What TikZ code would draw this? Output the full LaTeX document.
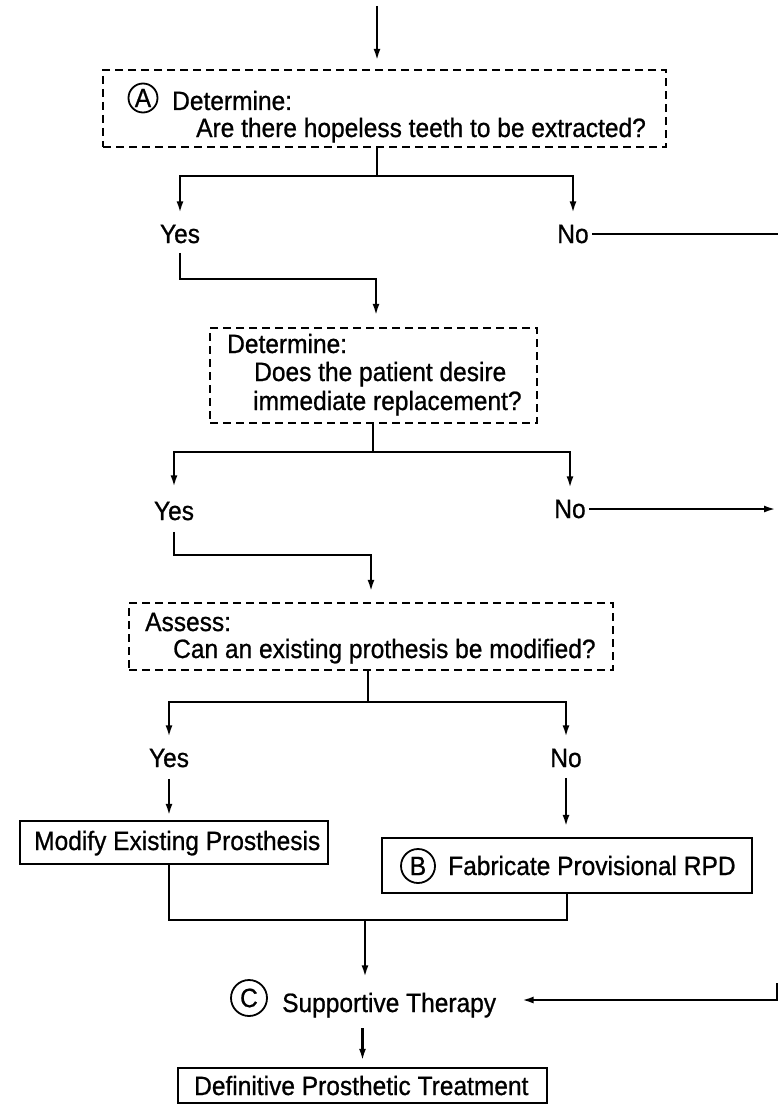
\documentclass[tikz,border=0pt]{standalone}
\usepackage{fontspec}
\setmainfont{Liberation Sans}[FakeStretch=0.925, FakeBold=0.8]
\usetikzlibrary{arrows.meta}
\begin{document}
\begin{tikzpicture}[x=1pt,y=-1pt,
  lbl/.style={font=\fontsize{26.5}{30}\selectfont, inner sep=3.3pt},
  txt/.style={lbl, anchor=base west, inner sep=0pt},
  dbox/.style={draw, line width=2.4pt, dash pattern=on 8pt off 5pt, inner sep=0pt},
  sbox/.style={draw, line width=2.4pt, inner sep=0pt},
  circ/.style={draw, circle, line width=1.8pt, inner sep=0pt,
    font=\fontsize{26.5}{30}\selectfont},
  flow/.style={line width=2.4pt},
  arr/.style={flow, -{Latex[length=12pt,width=7pt]}},
  harr/.style={flow, -{Latex[open,length=12pt,width=7pt]}}]
\useasboundingbox (0,0) rectangle (778,1105);

% boxes
\node[dbox, minimum width=563pt, minimum height=77pt] (boxA) at (384.5,108.5) {};
\node[dbox, minimum width=327pt, minimum height=95pt] (boxD) at (373.5,375.5) {};
\node[dbox, minimum width=484pt, minimum height=67pt] (boxS) at (371,636.5) {};
\node[sbox, minimum width=308pt, minimum height=43pt] (boxM) at (174,842.5) {};
\node[sbox, minimum width=370pt, minimum height=55pt] (boxB) at (567,865.5) {};
\node[sbox, minimum width=369pt, minimum height=35pt] (boxT) at (362.5,1085.5) {};

% box texts
\node[circ, minimum size=29pt] (cA) at (143,98) {A};
\node[txt] (tA1) at (172,110) {Determine:};
\node[txt] (tA2) at (196,137) {Are there hopeless teeth to be extracted?};
\node[txt] (tD1) at (227,353) {Determine:};
\node[txt] (tD2) at (254,381) {Does the patient desire};
\node[txt] (tD3) at (253,410) {immediate replacement?};
\node[txt] (tS1) at (145,631) {Assess:};
\node[txt] (tS2) at (173,658) {Can an existing prothesis be modified?};
\node[txt] (tM) at (34,850) {Modify Existing Prosthesis};
\node[circ, minimum size=34pt] (cB) at (418,866) {B};
\node[txt] (tB) at (448,875) {Fabricate Provisional RPD};
\node[circ, minimum size=36pt] (cC) at (249,998) {C};
\node[lbl, anchor=base west] (tC) at (278.7,1012) {Supportive Therapy};
\node[txt] (tT) at (194,1095) {Definitive Prosthetic Treatment};

% yes / no labels
\node[lbl, anchor=base] (yA) at (180,243) {Yes};
\node[lbl, anchor=base] (nA) at (573,243) {No};
\node[lbl, anchor=base] (yD) at (174,520) {Yes};
\node[lbl, anchor=base] (nD) at (570,518) {No};
\node[lbl, anchor=base] (yS) at (169,767) {Yes};
\node[lbl, anchor=base] (nS) at (566,767) {No};

% junctions and free ends
\coordinate (top) at (377,6);
\coordinate (jA) at (377,176);
\coordinate (kA) at (376,279);
\coordinate (jD) at (373,452);
\coordinate (kD) at (371,555);
\coordinate (jS) at (368,702);
\coordinate (jM) at (365,920);
\coordinate (eA) at (778,233);
\coordinate (eD) at (776,510);
\coordinate (eT) at (777,983);
\coordinate (eC) at (777,1000);

% connectors
\draw[arr, shorten >=8pt] (top) -- (top |- boxA.north);
\draw[flow] (jA |- boxA.south) -- (jA);
\draw[arr, shorten >=8pt] (jA) -| (yA.north);
\draw[arr, shorten >=8pt] (jA) -| (nA.north);
\draw[flow] (nA.east) -- (nA.east -| eA);
\draw[harr, shorten <=6pt, shorten >=11pt] (yA.south) |- (kA) -- (kA |- boxD.north);

\draw[flow] (jD |- boxD.south) -- (jD);
\draw[harr, shorten >=11pt] (jD) -| (yD.north);
\draw[harr, shorten >=8pt] (jD) -| (nD.north);
\draw[harr] (nD.east) -- (nD.east -| eD);
\draw[arr, shorten <=8pt, shorten >=10pt] (yD.south) |- (kD) -- (kD |- boxS.north);

\draw[flow] (jS |- boxS.south) -- (jS);
\draw[arr, shorten >=8pt] (jS) -| (yS.north);
\draw[arr, shorten >=8pt] (jS) -| (nS.north);
\draw[arr, shorten <=8pt, shorten >=4pt] (yS.south) -- (yS.south |- boxM.north);
\draw[arr, shorten <=7pt, shorten >=10pt] (nS.south) -- (nS.south |- boxB.north);

\draw[flow] (yS.south |- boxM.south) |- (jM) -| (boxB.south);
\draw[arr, shorten >=12pt] (jM) -- (jM |- tC.north);
\draw[harr, shorten >=22pt] (eT) -- (eC) -- (eC -| tC.east);
\draw[arr, shorten <=7pt, shorten >=6pt] (tC.south -| boxT.north) -- (boxT.north);
\end{tikzpicture}
\end{document}
